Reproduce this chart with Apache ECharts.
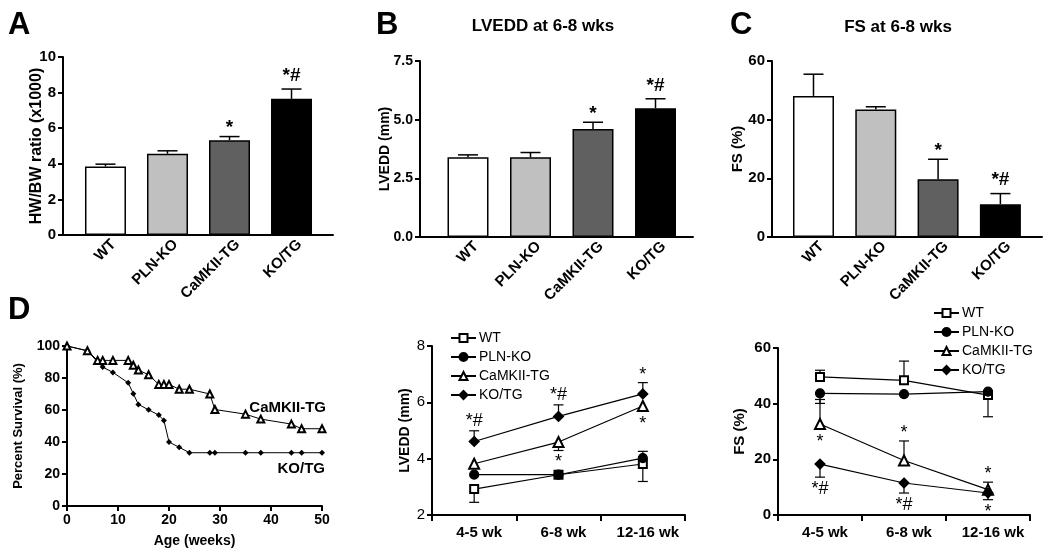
<!DOCTYPE html>
<html><head><meta charset="utf-8">
<script src="https://cdn.jsdelivr.net/npm/echarts@6/dist/echarts.min.js"></script>
<style>html,body{margin:0;padding:0;background:#fff}#c{width:1050px;height:557px}</style>
</head><body><div id="c"></div>
<script>
// ---------- data ----------
const barCats = ['WT', 'PLN-KO', 'CaMKII-TG', 'KO/TG'];
const hwbw = [3.85, 4.56, 5.33, 7.65];
const hwbwErr = [3.98, 4.73, 5.53, 8.2];
const hwbwMarks = [[2, '*'], [3, '*#']];
const lveddBar = [3.40, 3.40, 4.60, 5.49];
const lveddBarErr = [3.50, 3.60, 4.89, 5.89];
const lveddBarMarks = [[2, '*'], [3, '*#']];
const fsBar = [48.1, 43.5, 19.7, 11.2];
const fsBarErr = [55.5, 44.4, 26.5, 14.8];
const fsBarMarks = [[2, '*'], [3, '*#']];

const survWeeks = [0, 4, 6, 7, 9, 12, 13, 14, 16, 18, 19, 20, 22, 24, 28, 29, 35, 38, 44, 46, 50];
const camSurv = [100, 97, 91, 91, 91, 91, 88, 85, 82, 76, 76, 76, 73, 73, 70, 60.3, 57.4, 54.3, 51.2, 48.3, 48.3];
const koSurv = [100, 97, 90, 86.8, 83.5, 77, 70.2, 63.5, 60.1, 56.8, 53.5, 40, 36.7, 33.3, 33.3, 33.3, 33.3, 33.3, 33.3, 33.3, 33.3];

const ageCats = ['4-5 wk', '6-8 wk', '12-16 wk'];
const groups = ['WT', 'PLN-KO', 'CaMKII-TG', 'KO/TG'];
const lveddWT = [2.92, 3.43, 3.81],  lveddWTErr = [2.45, null, 3.19];
const lveddPLN = [3.43, 3.43, 4.02], lveddPLNErr = [null, null, 4.26];
const lveddCam = [3.82, 4.59, 5.87], lveddCamErr = [null, 4.29, null];
const lveddKO = [4.61, 5.50, 6.30],  lveddKOErr = [4.99, 5.91, 6.70];
const lveddMarks = [['KO/TG', 0, '*#', 'above'], ['KO/TG', 1, '*#', 'above'], ['KO/TG', 2, '*', 'above'],
                    ['CaMKII-TG', 1, '*', 'below'], ['CaMKII-TG', 2, '*', 'below']];
const fsWT = [49.6, 48.4, 43.1],  fsWTErr = [52.0, 55.3, 35.3];
const fsPLN = [43.7, 43.4, 44.3], fsPLNErr = [40.1, null, null];
const fsCam = [32.7, 19.6, 9.1],  fsCamErr = [41.5, 26.6, 11.8];
const fsKO = [18.3, 11.5, 7.9],   fsKOErr = [13.6, 7.9, 5.5];
const fsMarks = [['CaMKII-TG', 0, '*', 'below'], ['KO/TG', 0, '*#', 'below'], ['CaMKII-TG', 1, '*', 'above'],
                 ['KO/TG', 1, '*#', 'below'], ['CaMKII-TG', 2, '*', 'above'], ['KO/TG', 2, '*', 'below']];

// ---------- styles ----------
const FF = "'Liberation Sans', Arial, sans-serif";
const barColors = ['#ffffff', '#c0c0c0', '#606060', '#000000'];
const symbols = { 'WT': ['emptyRect', 8], 'PLN-KO': ['circle', 9], 'CaMKII-TG': ['emptyTriangle', 10], 'KO/TG': ['diamond', 10] };

const chart = echarts.init(document.getElementById('c'));

const grids = [
  { left: 63, top: 57, width: 270, height: 178 },
  { left: 420, top: 61, width: 273, height: 176 },
  { left: 772, top: 61, width: 270, height: 176 },
  { left: 67, top: 346, width: 255, height: 160 },
  { left: 432, top: 346, width: 253, height: 169 },
  { left: 778, top: 348, width: 252, height: 167 }
];

function axisLine() { return { show: true, onZero: false, lineStyle: { color: '#000', width: 2 } }; }
function yAxisCfg(g, min, max, interval, name, gap, nameSize, labelSize, labelBold, fmt) {
  return {
    gridIndex: g, type: 'value', min, max, interval,
    name, nameLocation: 'middle', nameGap: gap, nameRotate: 90, nameMoveOverlap: false,
    nameTextStyle: { fontFamily: FF, fontWeight: 'bold', fontSize: nameSize, color: '#000' },
    axisLine: axisLine(), axisTick: { show: true, length: 5, lineStyle: { color: '#000', width: 2 } },
    axisLabel: { fontFamily: FF, fontWeight: labelBold ? 'bold' : 'normal', fontSize: labelSize, color: '#000', margin: 7, formatter: fmt },
    splitLine: { show: false }
  };
}
function barXAxis(g, min, max) {
  return {
    gridIndex: g, type: 'value', min, max,
    axisLine: axisLine(), axisTick: { show: false }, splitLine: { show: false },
    axisLabel: {
      customValues: [0.13, 1.13, 2.13, 3.13], rotate: 45, margin: 7,
      fontFamily: FF, fontWeight: 'bold', fontSize: 15, color: '#000',
      formatter: v => barCats[Math.round(v)] || ''
    }
  };
}
function catXAxis(g) {
  return {
    gridIndex: g, type: 'category', data: ageCats, boundaryGap: true,
    axisLine: axisLine(), axisTick: { show: true, length: 6, lineStyle: { color: '#000', width: 2 } },
    axisLabel: { fontFamily: FF, fontWeight: 'bold', fontSize: 15, color: '#000', margin: 10, padding: [0, 0, 0, 10] },
    splitLine: { show: false }
  };
}

const xAxes = [
  barXAxis(0, -0.685, 3.669),
  barXAxis(1, -0.768, 3.6),
  barXAxis(2, -0.666, 3.668),
  { gridIndex: 3, type: 'value', min: 0, max: 50, interval: 10,
    name: 'Age (weeks)', nameLocation: 'middle', nameGap: 28, nameMoveOverlap: false,
    nameTextStyle: { fontFamily: FF, fontWeight: 'bold', fontSize: 14, color: '#000' },
    axisLine: axisLine(), axisTick: { show: true, length: 5, lineStyle: { color: '#000', width: 2 } },
    axisLabel: { fontFamily: FF, fontWeight: 'bold', fontSize: 14, color: '#000', margin: 7 },
    splitLine: { show: false } },
  catXAxis(4),
  catXAxis(5)
];
const yAxes = [
  yAxisCfg(0, 0, 10, 2, 'HW/BW ratio (x1000)', 18, 16, 15, true),
  yAxisCfg(1, 0, 7.5, 2.5, 'LVEDD (mm)', 28, 14, 14, true, v => v.toFixed(1)),
  yAxisCfg(2, 0, 60, 20, 'FS (%)', 27, 15, 15, true),
  yAxisCfg(3, 0, 100, 20, 'Percent Survival (%)', 42, 13, 14, true),
  yAxisCfg(4, 2, 8, 2, 'LVEDD (mm)', 20, 14, 15, false),
  yAxisCfg(5, 0, 60, 20, 'FS (%)', 31, 15, 15, true)
];

const series = [];

function errRender(capW, lw) {
  return function (params, api) {
    const p0 = api.coord([api.value(0), api.value(1)]);
    const p1 = api.coord([api.value(0), api.value(2)]);
    return { type: 'group', children: [
      { type: 'line', shape: { x1: p0[0], y1: p0[1], x2: p1[0], y2: p1[1] }, style: { stroke: '#000', lineWidth: lw } },
      { type: 'line', shape: { x1: p1[0] - capW / 2, y1: p1[1], x2: p1[0] + capW / 2, y2: p1[1] }, style: { stroke: '#000', lineWidth: lw } }
    ] };
  };
}
function markRender(items, font, gapAbove, gapBelow, starAdj) {
  return function (params, api) {
    const it = items[params.dataIndex];
    const p = api.coord([api.value(0), api.value(1)]);
    const above = it.side === 'above';
    const g = (above ? gapAbove : gapBelow) + (it.onPoint ? 6 : 0) + (above && it.text === '*' ? starAdj : 0);
    return { type: 'text', x: p[0], y: above ? p[1] - g : p[1] + g,
      style: { text: it.text, font, fill: '#000', textAlign: 'center', textVerticalAlign: above ? 'bottom' : 'top' } };
  };
}

// bar panels
[[hwbw, hwbwErr, hwbwMarks], [lveddBar, lveddBarErr, lveddBarMarks], [fsBar, fsBarErr, fsBarMarks]].forEach((d, g) => {
  const [vals, errs, marks] = d;
  series.push({
    type: 'bar', xAxisIndex: g, yAxisIndex: g, barWidth: 41, z: 2,
    data: vals.map((v, i) => ({ value: [i, v], itemStyle: { color: barColors[i], borderColor: '#000', borderWidth: 1.5 } }))
  });
  series.push({
    type: 'custom', xAxisIndex: g, yAxisIndex: g, z: 3, clip: false,
    renderItem: errRender(20, 1.5), data: vals.map((v, i) => [i, v, errs[i]])
  });
  const items = marks.map(m => ({ text: m[1], side: 'above' }));
  series.push({
    type: 'custom', xAxisIndex: g, yAxisIndex: g, z: 4, clip: false,
    renderItem: markRender(items, 'bold 19px ' + FF, 4, 4, -5),
    data: marks.map(m => [m[0], errs[m[0]]])
  });
});

// survival panel
series.push({
  name: 'CaMKII-TG survival', type: 'line', xAxisIndex: 3, yAxisIndex: 3, z: 3,
  data: survWeeks.map((w, i) => [w, camSurv[i]]),
  symbol: 'emptyTriangle', symbolSize: 7, showAllSymbol: true,
  lineStyle: { color: '#000', width: 1 }, itemStyle: { color: '#000', borderColor: '#000', borderWidth: 1 }
});
series.push({
  name: 'KO/TG survival', type: 'line', xAxisIndex: 3, yAxisIndex: 3, z: 2,
  data: survWeeks.map((w, i) => [w, koSurv[i]]),
  symbol: 'diamond', symbolSize: 6, showAllSymbol: true,
  lineStyle: { color: '#000', width: 1 }, itemStyle: { color: '#000' }
});

// line panels
const lineSets = [
  { g: 4, vals: [lveddWT, lveddPLN, lveddCam, lveddKO], errs: [lveddWTErr, lveddPLNErr, lveddCamErr, lveddKOErr], marks: lveddMarks },
  { g: 5, vals: [fsWT, fsPLN, fsCam, fsKO], errs: [fsWTErr, fsPLNErr, fsCamErr, fsKOErr], marks: fsMarks }
];
lineSets.forEach(set => {
  groups.forEach((name, k) => {
    const vals = set.vals[k], errs = set.errs[k];
    series.push({
      type: 'custom', xAxisIndex: set.g, yAxisIndex: set.g, z: 1, clip: false,
      renderItem: errRender(10, 1.2),
      data: vals.map((v, i) => errs[i] == null ? null : [i, v, errs[i]]).filter(x => x)
    });
    series.push({
      name, type: 'line', xAxisIndex: set.g, yAxisIndex: set.g, z: 3,
      data: vals, symbol: symbols[name][0], symbolSize: symbols[name][1], showAllSymbol: true,
      lineStyle: { color: '#000', width: 1.2 },
      itemStyle: { color: '#000', borderColor: '#000', borderWidth: 1.2 }
    });
  });
  const items = set.marks.map(m => {
    const k = groups.indexOf(m[0]);
    const v = set.vals[k][m[1]], e = set.errs[k][m[1]];
    let anchor = v, onPoint = true;
    if (e != null && ((m[3] === 'above' && e > v) || (m[3] === 'below' && e < v))) { anchor = e; onPoint = false; }
    return { i: m[1], anchor, text: m[2], side: m[3], onPoint };
  });
  series.push({
    type: 'custom', xAxisIndex: set.g, yAxisIndex: set.g, z: 4, clip: false,
    renderItem: markRender(items, '18px ' + FF, 1, 3, -2),
    data: items.map(it => [it.i, it.anchor])
  });
});

function legendCfg(left, top) {
  return {
    orient: 'vertical', left, top, itemWidth: 25, itemHeight: 10, itemGap: 5, padding: 0,
    selectedMode: false, data: groups,
    textStyle: { fontFamily: FF, fontSize: 14, color: '#000', padding: [0, 0, 0, -2] }
  };
}

function txt(x, y, text, font, align) {
  return { type: 'text', x, y, style: { text, font, fill: '#000', textAlign: align || 'left', textVerticalAlign: 'middle' } };
}

chart.setOption({
  animation: false,
  backgroundColor: '#fff',
  grid: grids,
  xAxis: xAxes,
  yAxis: yAxes,
  legend: [legendCfg(450, 331), legendCfg(933, 306)],
  series,
  graphic: [
    txt(8, 25, 'A', 'bold 31px ' + FF),
    txt(376, 25, 'B', 'bold 31px ' + FF),
    txt(730, 25, 'C', 'bold 31px ' + FF),
    txt(8, 310, 'D', 'bold 31px ' + FF),
    txt(543, 26, 'LVEDD at 6-8 wks', 'bold 17px ' + FF, 'center'),
    txt(898, 27, 'FS at 6-8 wks', 'bold 17px ' + FF, 'center'),
    txt(326, 408, 'CaMKII-TG', 'bold 15px ' + FF, 'right'),
    txt(325, 469, 'KO/TG', 'bold 15px ' + FF, 'right')
  ]
});
</script>
</body></html>
